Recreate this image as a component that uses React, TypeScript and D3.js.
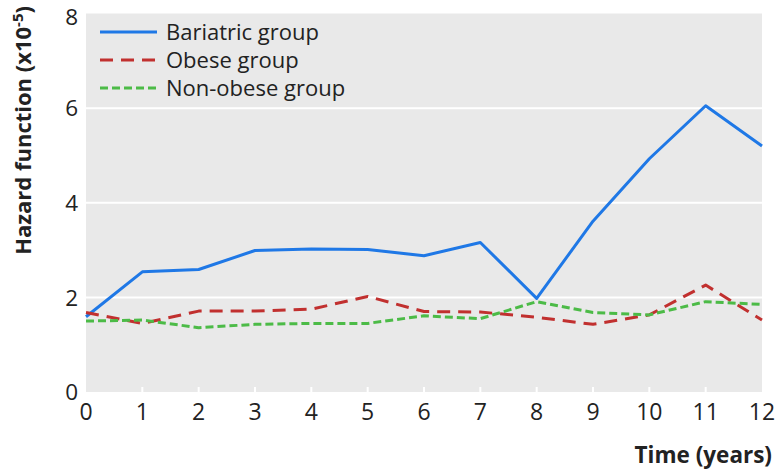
import React from "react";
import * as d3 from "d3";

const years = [0, 1, 2, 3, 4, 5, 6, 7, 8, 9, 10, 11, 12];
const bariatric = [1.59, 2.54, 2.59, 2.99, 3.02, 3.01, 2.88, 3.16, 1.98, 3.61, 4.93, 6.05, 5.2];
const obese = [1.68, 1.45, 1.71, 1.71, 1.75, 2.02, 1.7, 1.69, 1.58, 1.43, 1.63, 2.26, 1.52];
const nonObese = [1.5, 1.52, 1.36, 1.43, 1.45, 1.45, 1.61, 1.55, 1.91, 1.68, 1.63, 1.91, 1.85];
const yTicks = [0, 2, 4, 6, 8];
const seriesNames = ["Bariatric group", "Obese group", "Non-obese group"];

const W = 780;
const H = 473;
const left = 86;
const right = 762;
const top = 13.5;
const bottom = 392;
const FONT = "'Open Sans', 'Noto Sans', sans-serif";

export default function App() {
  const x = d3.scaleLinear().domain([0, 12]).range([left, right]);
  const y = d3.scaleLinear().domain([0, 8]).range([bottom, top]);
  const line = d3
    .line<number>()
    .x((_, i) => x(years[i]))
    .y((d) => y(d));

  const series = [
    { name: seriesNames[0], data: bariatric, color: "#1f78e6", dash: "none" },
    { name: seriesNames[1], data: obese, color: "#c1302f", dash: "13,8" },
    { name: seriesNames[2], data: nonObese, color: "#4cbb47", dash: "8,4" },
  ];

  return (
    <svg width={W} height={H} style={{ position: "absolute", left: 0, top: 0 }}>
      <rect x={0} y={0} width={W} height={H} fill="#fff" />
      <rect x={left} y={top} width={right - left} height={bottom - top} fill="#e9e9e9" />
      {yTicks.filter((t) => t > 0 && t < 8).map((t) => (
        <line key={t} x1={left} x2={right} y1={y(t)} y2={y(t)} stroke="#fff" strokeWidth={2} />
      ))}
      {years.filter((t) => t > 0 && t < 12).map((t) => (
        <line key={t} x1={x(t)} x2={x(t)} y1={bottom} y2={bottom - 5} stroke="#fff" strokeWidth={2} />
      ))}
      {yTicks.map((t) => (
        <text key={t} x={78} y={Math.max(y(t) + 8.2, 24.5)} textAnchor="end" fontSize={22.5} fill="#222" fontFamily={FONT}>
          {t}
        </text>
      ))}
      {years.map((t) => (
        <text key={t} x={x(t)} y={420} textAnchor="middle" fontSize={23} fill="#222" fontFamily={FONT}>
          {t}
        </text>
      ))}
      <text
        transform={`translate(31, 6) rotate(-90)`}
        textAnchor="end"
        fontSize={22}
        fontWeight="bold"
        fill="#222"
        fontFamily={FONT}
      >
        Hazard function (x10<tspan dy={-8} fontSize={15}>-5</tspan><tspan dy={8}>)</tspan>
      </text>
      <text x={772} y={463} textAnchor="end" fontSize={22.5} fontWeight="bold" fill="#222" fontFamily={FONT}>
        Time (years)
      </text>
      {series.map((s) => (
        <path
          key={s.name}
          d={line(s.data) || ""}
          fill="none"
          stroke={s.color}
          strokeWidth={3}
          strokeDasharray={s.dash}
          strokeLinejoin="round"
        />
      ))}
      {series.map((s, i) => (
        <g key={s.name} transform={`translate(0, ${32 + i * 28})`}>
          <line x1={100} x2={157} y1={0} y2={0} stroke={s.color} strokeWidth={3} strokeDasharray={s.dash} />
          <text x={166} y={0} dy="0.35em" fontSize={22} fill="#222" fontFamily={FONT}>
            {s.name}
          </text>
        </g>
      ))}
    </svg>
  );
}
